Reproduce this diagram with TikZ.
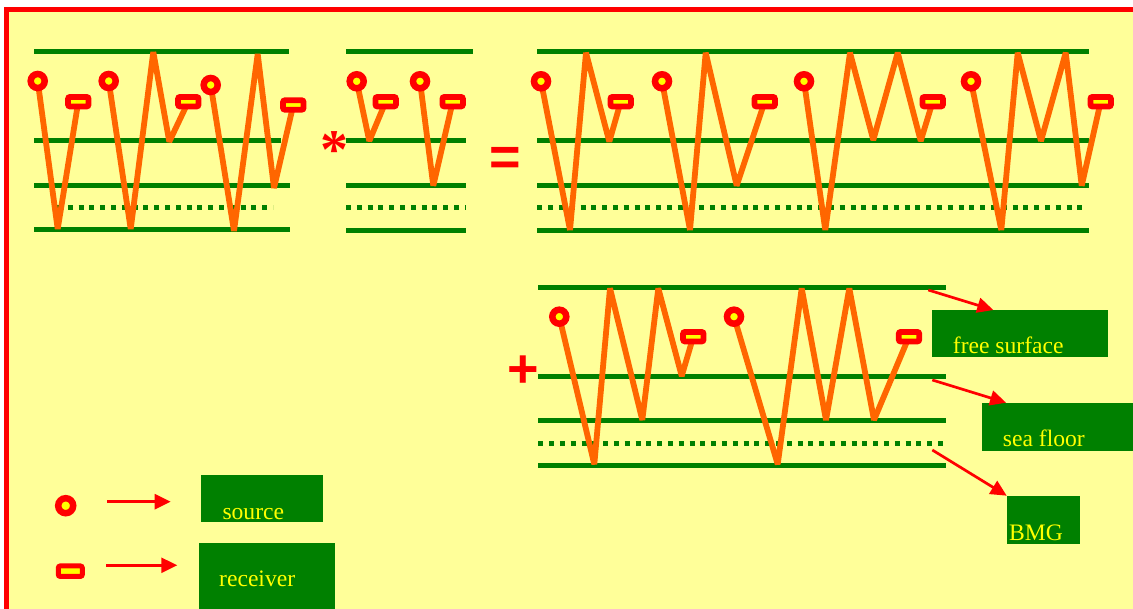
\documentclass[tikz,border=0pt]{standalone}
\usepackage{fontspec}
\setmainfont{Liberation Serif}
\newfontfamily\opfont{Liberation Sans}
\usetikzlibrary{arrows.meta,calc}
\definecolor{paper}{HTML}{FFFF99}
\definecolor{layergreen}{HTML}{008000}
\definecolor{wave}{HTML}{FF6600}
\definecolor{markred}{HTML}{FF0000}
\definecolor{dotyellow}{HTML}{FFFF00}
\pgfdeclarelayer{back}
\pgfdeclarelayer{mid}
\pgfsetlayers{back,mid,main}
\tikzset{
  horizon/.style={draw=layergreen, line width=5pt},
  bmgline/.style={draw=layergreen, line width=5pt, dash pattern=on 5pt off 5.8pt},
  ray/.style={draw=wave, line width=5.8pt, line join=bevel},
  src/.style={circle, draw=markred, fill=dotyellow, line width=6.5pt, minimum size=14pt, inner sep=0pt},
  rcv/.style={rectangle, draw=markred, fill=dotyellow, line width=5.8pt, minimum width=20.5pt,
    minimum height=9.5pt, rounded corners=2pt, inner sep=0pt},
  tag/.style={fill=layergreen, inner sep=0pt, anchor=north west},
  tagtext/.style={text=dotyellow, font=\fontsize{23.6}{28}\selectfont, anchor=base west, inner sep=0pt},
  pointer/.style={draw=markred, line width=2.7pt, -{Triangle[length=16pt,width=15pt]}},
  op/.style={text=markred, inner sep=0pt, anchor=north},
}
\begin{document}
\begin{tikzpicture}[x=1pt,y=-1pt]
\useasboundingbox (0,0) rectangle (1133,609);
\begin{pgfonlayer}{back}
  \fill[white] (0,0) rectangle (1133,609);
  \draw[markred, line width=5pt, fill=paper] (6.5,9.5) rectangle (1150,620);
  % first model
  \draw[horizon] (34,51.7) -- (289,51.7);
  \draw[horizon] (34,141) -- (281,141);
  \draw[horizon] (34,185.7) -- (290,185.7);
  \draw[bmgline] (57,208) -- (273,208);
  \draw[horizon] (34,230) -- (290,230);
  % second model
  \draw[horizon] (346,52) -- (472.7,52);
  \draw[horizon] (346,141) -- (465.7,141);
  \draw[horizon] (346,185.7) -- (466,185.7);
  \draw[bmgline] (346,207.7) -- (466,207.7);
  \draw[horizon] (346,230.7) -- (466,230.7);
  % convolution result
  \draw[horizon] (537.3,52) -- (1089.3,52);
  \draw[horizon] (537.3,141) -- (1089.3,141);
  \draw[horizon] (537.3,185.7) -- (1089.3,185.7);
  \draw[bmgline] (537.3,207.7) -- (1087,207.7);
  \draw[horizon] (537.3,230.7) -- (1089.3,230.7);
  % extra term
  \draw[horizon] (538.3,287.3) -- (945.7,287.3);
  \draw[horizon] (538.3,376.7) -- (945.7,376.7);
  \draw[horizon] (538.3,421) -- (945.7,421);
  \draw[bmgline] (538.3,443.7) -- (945.7,443.7);
  \draw[horizon] (538.3,465.3) -- (945.7,465.3);
\end{pgfonlayer}

% sources and receivers
\node[src] (s1) at (37.7,81) {};
\node[src] (s2) at (108.7,81) {};
\node[src] (s3) at (210.7,85) {};
\node[rcv] (r1) at (78.3,101.7) {};
\node[rcv] (r2) at (188.3,101.7) {};
\node[rcv] (r3) at (293.3,105) {};

\node[src] (s4) at (356.7,81.3) {};
\node[src] (s5) at (420,81.3) {};
\node[rcv] (r4) at (385.7,101.7) {};
\node[rcv] (r5) at (452.7,101.7) {};

\node[src] (s6) at (541,81.3) {};
\node[src] (s7) at (662,81.3) {};
\node[src] (s8) at (804,81.3) {};
\node[src] (s9) at (971,81.3) {};
\node[rcv] (r6) at (620.7,101.7) {};
\node[rcv] (r7) at (764.7,101.7) {};
\node[rcv] (r8) at (932.7,101.7) {};
\node[rcv] (r9) at (1100.7,101.7) {};

\node[src] (s10) at (559.3,316.7) {};
\node[src] (s11) at (734,316.7) {};
\node[rcv] (r10) at (693.3,336.7) {};
\node[rcv] (r11) at (909,336.7) {};

% ray paths
\begin{pgfonlayer}{mid}
  \draw[ray] (s1.center) -- (57.7,229) -- (r1.center);
  \draw[ray] (s2.center) -- (130.7,229) -- (153.3,52) -- (169.3,141.7) -- (r2.center);
  \draw[ray] (s3.center) -- (234,231) -- (257.7,54) -- (274,188) -- (r3.center);

  \draw[ray] (s4.center) -- (369.3,141) -- (r4.center);
  \draw[ray] (s5.center) -- (433.3,185.7) -- (r5.center);

  \draw[ray] (s6.center) -- (570,230) -- (586,52.7) -- (609.3,141.7) -- (r6.center);
  \draw[ray] (s7.center) -- (690,230) -- (705.7,52.7) -- (736.7,185.7) -- (r7.center);
  \draw[ray] (s8.center) -- (825.3,230) -- (850,52.7) -- (873.3,140) -- (897.7,52.7) -- (920.7,141) -- (r8.center);
  \draw[ray] (s9.center) -- (1001.3,230) -- (1017.7,52.7) -- (1041,141) -- (1065.7,52.7) -- (1081.7,185.7) -- (r9.center);

  \draw[ray] (s10.center) -- (594.3,464.3) -- (610,288.3) -- (642.3,420) -- (658.3,288.3) -- (681.7,376) -- (r10.center);
  \draw[ray] (s11.center) -- (777.7,464.3) -- (801.7,288.3) -- (826,420) -- (849.3,288.3) -- (874,420) -- (r11.center);
\end{pgfonlayer}

% operators
\node[op, font=\bfseries\fontsize{56}{62}\selectfont] (conv) at (334,131.7) {*};
\node[op, font=\opfont\bfseries\fontsize{54}{60}\selectfont] (eq) at (505,146.8) {=};
\node[op, font=\opfont\bfseries\fontsize{54}{60}\selectfont] (plus) at (523.7,356) {+};

% interface labels
\node[tag, minimum width=175.6pt, minimum height=47.3pt] (fsbox) at (931.7,310) {};
\node[tagtext] (fstext) at (952.7,353.3) {free surface};
\node[tag, minimum width=155pt, minimum height=48pt] (sfbox) at (981.7,402.7) {};
\node[tagtext] (sftext) at (1002.7,446.7) {sea floor};
\node[tag, minimum width=73.3pt, minimum height=47.6pt] (bmgbox) at (1006.7,495.7) {};
\node[tagtext] (bmgtext) at (1009,540) {BMG};

\coordinate (fsfrom) at (928.3,290);
\coordinate (sffrom) at (932.3,380);
\coordinate (bmgfrom) at (932.3,450);
\draw[pointer] (fsfrom) -- ($(fsbox.north west)!0.35!(fsbox.north east)$);
\draw[pointer] (sffrom) -- ($(sfbox.north west)!0.157!(sfbox.north east)$);
\draw[pointer] (bmgfrom) -- (bmgbox.north west);

% legend
\node[src, minimum size=15pt, line width=6.5pt] (legsrc) at (65.7,505.7) {};
\node[rcv, minimum width=24pt, minimum height=10.5pt, line width=5pt] (legrcv) at (70.3,571.2) {};
\node[tag, minimum width=122pt, minimum height=46.4pt] (srcbox) at (200.7,475.3) {};
\node[tagtext] (srctext) at (222.3,519.3) {source};
\node[tag, minimum width=135.7pt, minimum height=75pt] (rcvbox) at (199,542.3) {};
\node[tagtext] (rcvtext) at (219,586.7) {receiver};
\coordinate (srcfrom) at (107.3,501.7);
\coordinate (srcto) at (170.7,501.7);
\coordinate (rcvfrom) at (106,565.3);
\coordinate (rcvto) at (177.3,565.3);
\draw[pointer] (srcfrom) -- (srcto);
\draw[pointer] (rcvfrom) -- (rcvto);
\end{tikzpicture}
\end{document}
